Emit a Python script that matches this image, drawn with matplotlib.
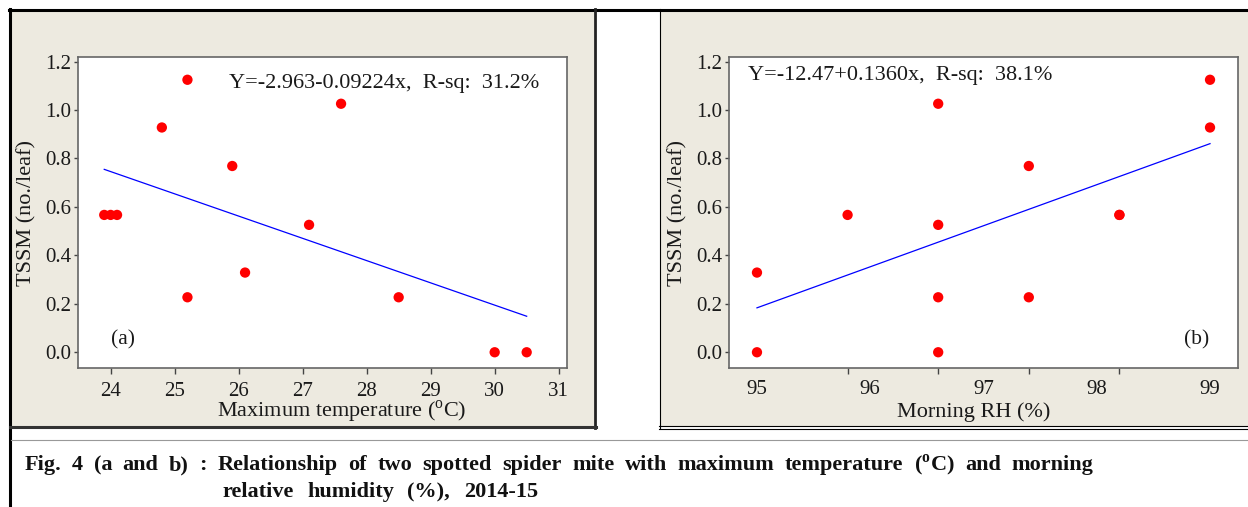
import matplotlib
matplotlib.use("Agg")
import matplotlib.pyplot as plt
import numpy as np
from matplotlib.patches import Rectangle
from matplotlib.lines import Line2D
from matplotlib.ticker import FixedLocator, NullFormatter

plt.rcParams['font.family'] = ['Liberation Serif', 'DejaVu Serif']
plt.rcParams['mathtext.fontset'] = 'custom'
plt.rcParams['mathtext.rm'] = 'Liberation Serif'
plt.rcParams['mathtext.bf'] = 'Liberation Serif:bold'

# ---------------- data ----------------
temp = [23.9, 24.0, 24.1, 24.8, 25.2, 25.2, 25.9, 26.1, 27.1, 27.6, 28.5, 30.0, 30.5]
tssm_a = [0.567, 0.567, 0.567, 0.928, 1.125, 0.227, 0.769, 0.329, 0.526, 1.026, 0.227, 0.0, 0.0]

rh = [95.0, 95.0, 95.8, 96.6, 96.6, 96.6, 96.6, 97.4, 97.4, 98.2, 98.2, 99.0, 99.0]
tssm_b = [0.329, 0.0, 0.567, 1.026, 0.526, 0.227, 0.0, 0.769, 0.227, 0.567, 0.567, 1.125, 0.928]

temp_ticks = [24, 25, 26, 27, 28, 29, 30, 31]
rh_labels = [95, 96, 97, 98, 99]
rh_tick_marks = [95.0, 95.8, 96.6, 97.4, 98.2, 99.0]
y_ticks = [0.0, 0.2, 0.4, 0.6, 0.8, 1.0, 1.2]

eq_a = "Y=-2.963-0.09224x,  R-sq:  31.2%"
eq_b = "Y=-12.47+0.1360x,  R-sq:  38.1%"
caption1 = "Fig. 4 (a and b) : Relationship of two spotted spider mite with maximum temperature ($^{\\mathbf{o}}$C) and morning"
caption2 = "relative humidity (%), 2014-15"

# ---------------- figure ----------------
W, H = 1248, 507
fig = plt.figure(figsize=(W / 100, H / 100), dpi=100, facecolor='white')

def fx(x):
    return x / W

def fy(y):
    return 1 - y / H

def rect(x0, y0, x1, y1, **kw):
    fig.add_artist(Rectangle((fx(x0), fy(y1)), (x1 - x0) / W, (y1 - y0) / H,
                             transform=fig.transFigure, **kw))

def line(xs, ys, **kw):
    fig.add_artist(Line2D([fx(x) for x in xs], [fy(y) for y in ys],
                          transform=fig.transFigure, **kw))

beige = '#EDEAE0'
rect(11, 11, 594, 426, facecolor=beige, edgecolor='none', zorder=0)
rect(660, 11, W, 426, facecolor=beige, edgecolor='none', zorder=0)

# frames
line([9, W], [9.5, 9.5], color='black', lw=2.2, zorder=1)
line([9.8, 9.8], [9, H], color='black', lw=2.2, zorder=1)
line([595, 595], [9, 428], color='#222222', lw=2.0, zorder=1)
line([10, 596], [427, 427], color='#333333', lw=2.2, zorder=1)
line([659.5, 659.5], [9, 428], color='black', lw=0.8, zorder=1)
line([659, W], [425.8, 425.8], color='black', lw=0.8, zorder=1)
line([659, W], [428.6, 428.6], color='black', lw=0.8, zorder=1)
line([11, W], [440, 440], color='#999999', lw=0.8, zorder=1)

ylim = (-0.065, 1.219)

def style_axes(ax):
    ax.set_facecolor('white')
    for s in ax.spines.values():
        s.set_color('#666666')
        s.set_linewidth(1.2)
    ax.set_ylim(*ylim)
    ax.set_yticks(y_ticks)
    ax.set_yticklabels([f"{v:.1f}" for v in y_ticks])
    ax.tick_params(axis='both', which='both', direction='out', color='#444444',
                   width=1.0, labelsize=15, labelcolor='#1a1a1a')
    ax.tick_params(axis='y', length=3, pad=2)
    ax.tick_params(axis='x', length=4, pad=6)
    ax.set_ylabel("TSSM (no./leaf)", fontsize=16, color='#1a1a1a', labelpad=6)

# ---- panel (a) ----
ax1 = fig.add_axes([fx(78), fy(368), (567 - 78) / W, (368 - 57) / H])
style_axes(ax1)
ax1.set_xlim(23.49, 31.13)
ax1.set_xticks(temp_ticks)
ax1.set_xticklabels([str(t) for t in temp_ticks])
ax1.scatter(temp, tssm_a, s=55, color='#FF0000', edgecolors='none', zorder=3)
k1 = np.polyfit(temp, tssm_a, 1)
xx1 = np.array([min(temp), max(temp)])
ax1.plot(xx1, np.polyval(k1, xx1), color='#0000FF', lw=0.9, zorder=2)
ax1.set_xlabel("Maximum temperature ($^{\\rm o}$C)", fontsize=16, color='#1a1a1a')
ax1.xaxis.set_label_coords((342 - 78) / 489, (368 - 412) / 311)
ax1.xaxis.label.set_va('center')
ax1.text(0.308, 0.915, eq_a, transform=ax1.transAxes, fontsize=16,
         va='center', ha='left', color='#1a1a1a')
ax1.text(0.068, 0.09, "(a)", transform=ax1.transAxes, fontsize=15.5,
         va='center', ha='left', color='#1a1a1a')

# ---- panel (b) ----
ax2 = fig.add_axes([fx(729), fy(368), (1238 - 729) / W, (368 - 57) / H])
style_axes(ax2)
ax2.set_xlim(94.753, 99.247)
ax2.set_xticks(rh_labels)
ax2.set_xticklabels([str(t) for t in rh_labels])
ax2.xaxis.set_minor_locator(FixedLocator(rh_tick_marks))
ax2.xaxis.set_minor_formatter(NullFormatter())
ax2.tick_params(axis='x', which='major', length=0, pad=9)
ax2.tick_params(axis='x', which='minor', length=4)
ax2.scatter(rh, tssm_b, s=55, color='#FF0000', edgecolors='none', zorder=3)
k2 = np.polyfit(rh, tssm_b, 1)
xx2 = np.array([min(rh), max(rh)])
ax2.plot(xx2, np.polyval(k2, xx2), color='#0000FF', lw=0.9, zorder=2)
ax2.set_xlabel("Morning RH (%)", fontsize=16, color='#1a1a1a')
ax2.xaxis.set_label_coords((974 - 729) / 509, (368 - 412) / 311)
ax2.xaxis.label.set_va('center')
ax2.text(0.037, 0.94, eq_b, transform=ax2.transAxes, fontsize=16,
         va='center', ha='left', color='#1a1a1a')
ax2.text(0.893, 0.09, "(b)", transform=ax2.transAxes, fontsize=15.5,
         va='center', ha='left', color='#1a1a1a')

# ---- caption (words spread across the line, as in the justified original) ----
renderer = fig.canvas.get_renderer()

def justified(text, x0, x1, y, size):
    words = text.split(" ")
    arts = [fig.text(0, fy(y), w, fontsize=size, fontweight='bold', ha='left',
                     va='center', color='#111111') for w in words]
    widths = [a.get_window_extent(renderer).width for a in arts]
    gap = (x1 - x0 - sum(widths)) / max(len(words) - 1, 1)
    x = x0
    for a, wd in zip(arts, widths):
        a.set_x(fx(x))
        x += wd + gap

justified(caption1, 25, 1093, 465, 16)
justified(caption2, 222, 538, 492, 16)

fig.savefig("out.png", dpi=100, facecolor='white')
